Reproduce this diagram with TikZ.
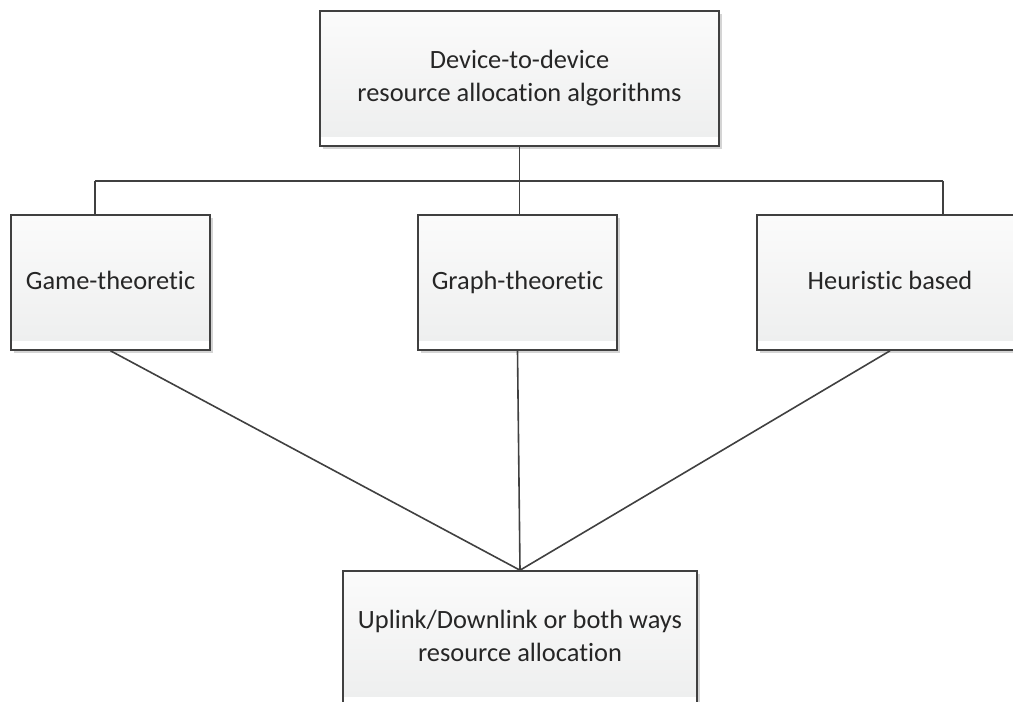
\documentclass[tikz,border=0pt]{standalone}
\usepackage{fontspec}
\setmainfont{Carlito}[Ligatures={NoCommon}]
\usetikzlibrary{shadows,calc}
\definecolor{edge}{HTML}{404040}
\definecolor{ink}{HTML}{262626}
\definecolor{shadetop}{HTML}{FBFBFB}
\definecolor{shadebot}{HTML}{EDEEEE}
\definecolor{shadowgray}{HTML}{D4D4D4}
% uniform line height so every label sits at the same baseline
\newcommand{\linestrut}{\rule[-6pt]{0pt}{25pt}}
\tikzset{
  box/.style={draw=edge, line width=1.6pt, fill=white, inner sep=0pt,
    minimum height=135pt, align=center, text=ink,
    font=\fontsize{26.4}{32.2}\selectfont,
    drop shadow={shadow xshift=3pt, shadow yshift=-3pt, fill=shadowgray, opacity=1},
    path picture={
      \fill[top color=shadetop, bottom color=shadebot]
        (path picture bounding box.north west) rectangle
        ($(path picture bounding box.south east)+(0pt,10pt)$);
    }},
  link/.style={draw=edge, line width=1.6pt}
}
\begin{document}
\begin{tikzpicture}[x=1pt, y=-1pt]
  \useasboundingbox (0,0) rectangle (1013,702);
  \clip (0,0) rectangle (1013,702);

  % category boxes
  \node[box, minimum width=399pt] (root) at (519.5,78.5)
    {Device-to-device\linestrut\\resource allocation algorithms\linestrut};
  \node[box, minimum width=199pt] (game) at (110.5,282.5) {Game-theoretic\linestrut};
  \node[box, minimum width=199pt] (graph) at (517.5,282.5) {Graph-theoretic\linestrut};
  \node[box, minimum width=266pt] (heur) at (890,282.5) {Heuristic based\linestrut};
  \node[box, minimum width=354pt] (link) at (520,638.5)
    {Uplink/Downlink or both ways\linestrut\\resource allocation\linestrut};

  % tree from the root to the three approaches
  \coordinate (bus) at ($(root.south)+(0pt,-34pt)$);
  \coordinate (gtap) at ($(game.north west)+(85pt,0pt)$);
  \coordinate (htap) at ($(heur.north west)+(187pt,0pt)$);
  \draw[link] (root.south) -- (bus);
  \draw[link] (gtap |- bus) -- (htap |- bus);
  \draw[link] (gtap |- bus) -- (gtap);
  \draw[link] (root.south |- bus) -- (root.south |- graph.north);
  \draw[link] (htap |- bus) -- (htap);

  % every approach feeds the allocation direction
  \draw[link] (game.south) -- (link.north);
  \draw[link] (graph.south) -- (link.north);
  \draw[link] (heur.south) -- (link.north);
\end{tikzpicture}
\end{document}
